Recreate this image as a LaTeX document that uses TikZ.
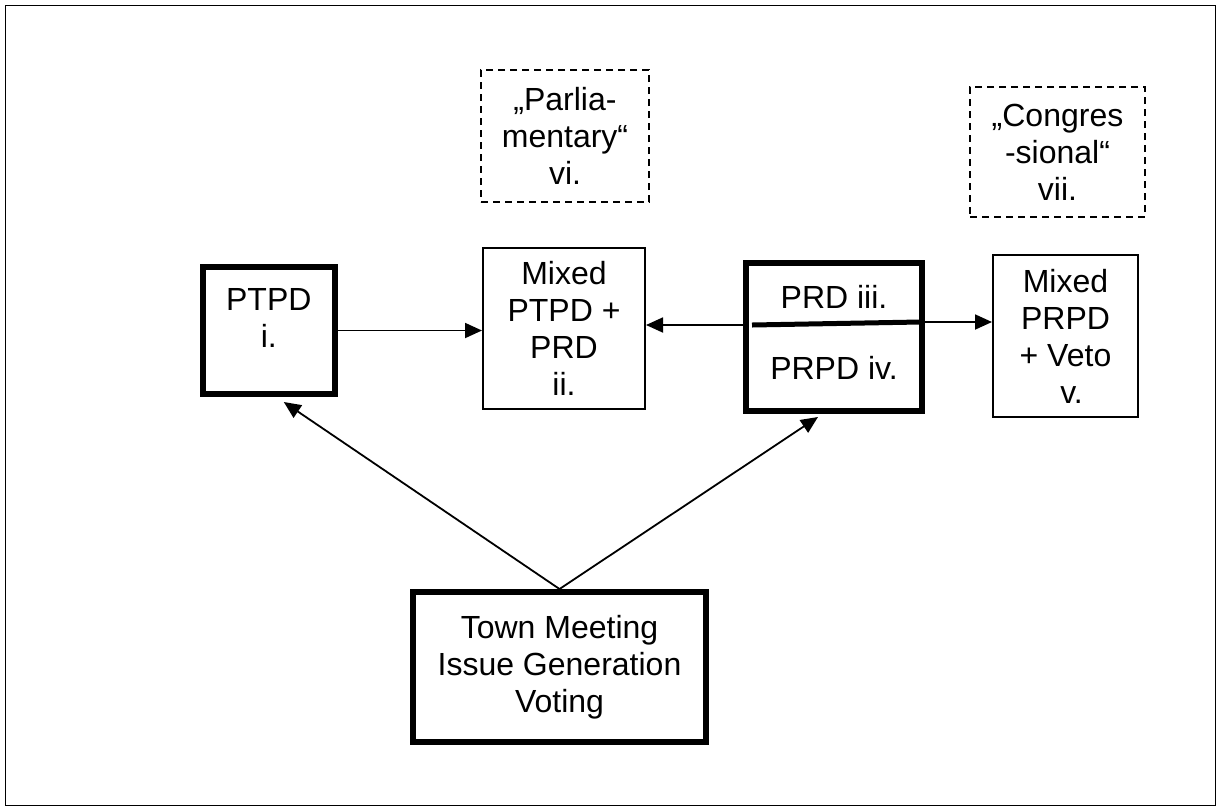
\documentclass[tikz,border=0pt]{standalone}
\usepackage{fontspec}
\setmainfont{Liberation Sans}
\usetikzlibrary{arrows.meta, positioning}

\begin{document}
\begin{tikzpicture}[x=1pt, y=-1pt,
  box/.style={rectangle, draw, line width=2pt, align=center, font=\fontsize{32}{37}\selectfont, inner sep=0pt},
  heavy/.style={box, line width=6pt},
  idea/.style={box, line width=2pt, dash pattern=on 7pt off 5pt},
  txt/.style={align=center, font=\fontsize{32}{37}\selectfont, inner sep=0pt},
  arr/.style={-{Triangle[length=17pt, width=15pt]}, line width=1.8pt},
]
\useasboundingbox (0,0) rectangle (1217,807);
\draw[line width=1.8pt] (5.5,5.5) rectangle (1215.5,805.5);

% the two labels on top
\node[idea, minimum width=168, minimum height=132] (parl) at (565,136) {„Parlia-\\mentary“\\vi.};
\node[idea, minimum width=175, minimum height=130] (cong) at (1057.5,152) {„Congres\\-sional“\\vii.};

% middle row
\node[heavy, minimum width=132.5, minimum height=127] (ptpd) at (268.8,330.5) {};
\node[txt] (ptpdtext) at (268.8,318) {PTPD\\i.};
\node[box, minimum width=162, minimum height=161] (mixa) at (564,328.5) {Mixed\\PTPD +\\PRD\\ii.};
\node[heavy, minimum width=176, minimum height=148] (prd) at (834,337) {};
\node[txt] (prdtext) at (834,297) {PRD iii.};
\node[txt] (prpdtext) at (834,368) {PRPD iv.};
\node[box, minimum width=145, minimum height=162] (mixb) at (1065.5,336) {Mixed\\PRPD\\+ Veto\\\hspace{12pt}v.};

% bottom
\node[heavy, minimum width=293, minimum height=150] (town) at (559.5,667) {Town Meeting\\Issue Generation\\Voting};

\coordinate (splitl) at (752,325);
\coordinate (splitr) at (920,322);
\draw[line width=5pt] (splitl) -- (splitr);

\draw[arr] (ptpd.east) -- (ptpd.east -| mixa.west);
\draw[arr] (prd.west |- splitl) -- (mixa.east |- splitl);
\draw[arr] (prd.east |- splitr) -- (mixb.west |- splitr);
\draw[arr] (town.north) -- ([xshift=15pt, yshift=-5pt]ptpd.south);
\draw[arr] (town.north) -- ([xshift=-16pt, yshift=-3pt]prd.south);
\end{tikzpicture}
\end{document}
